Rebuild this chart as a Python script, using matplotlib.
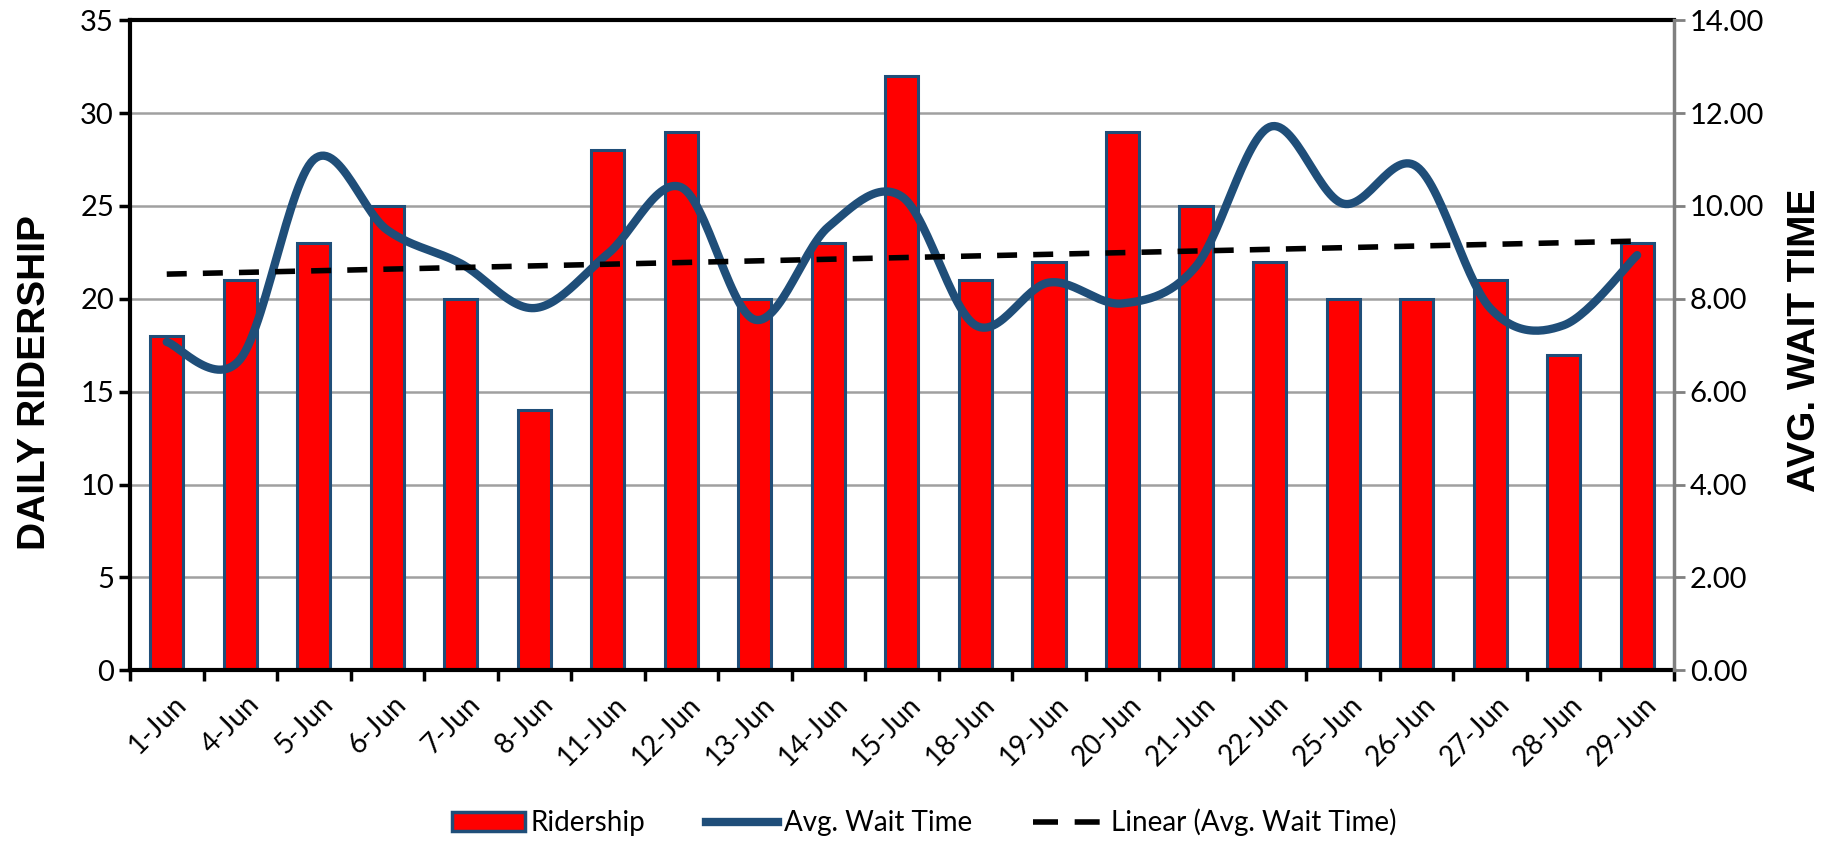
import numpy as np
import matplotlib
matplotlib.use('Agg')
import matplotlib.pyplot as plt
import matplotlib.transforms as mtransforms
from matplotlib.lines import Line2D
from matplotlib.patches import Patch
from matplotlib.ticker import FormatStrFormatter

# data
days = ['1-Jun', '4-Jun', '5-Jun', '6-Jun', '7-Jun', '8-Jun', '11-Jun', '12-Jun',
        '13-Jun', '14-Jun', '15-Jun', '18-Jun', '19-Jun', '20-Jun', '21-Jun',
        '22-Jun', '25-Jun', '26-Jun', '27-Jun', '28-Jun', '29-Jun']
ridership = [18, 21, 23, 25, 20, 14, 28, 29, 20, 23, 32, 21, 22, 29, 25, 22, 20, 20, 21, 17, 23]
wait_time = [7.07, 6.7, 11.0, 9.48, 8.76, 7.8, 8.97, 10.4, 7.55, 9.55, 10.2, 7.43,
             8.35, 7.9, 8.7, 11.7, 10.05, 10.85, 7.8, 7.43, 8.94]

plt.rcParams['font.family'] = ['Lato', 'DejaVu Sans']

red = '#FF0000'
navy = '#1F4E79'

def smooth(xs, ys, n=30):
    # excel-style smoothed line (catmull-rom bezier)
    xs = np.asarray(xs, float)
    ys = np.asarray(ys, float)
    px = np.concatenate([[xs[0]], xs, [xs[-1]]])
    py = np.concatenate([[ys[0]], ys, [ys[-1]]])
    outx, outy = [], []
    t = np.linspace(0, 1, n)
    for i in range(1, len(px) - 2):
        p0 = np.array([px[i], py[i]])
        p3 = np.array([px[i + 1], py[i + 1]])
        c1 = p0 + (np.array([px[i + 1], py[i + 1]]) - np.array([px[i - 1], py[i - 1]])) / 6
        c2 = p3 - (np.array([px[i + 2], py[i + 2]]) - np.array([px[i], py[i]])) / 6
        b = ((1 - t) ** 3)[:, None] * p0 + (3 * (1 - t) ** 2 * t)[:, None] * c1 \
            + (3 * (1 - t) * t ** 2)[:, None] * c2 + (t ** 3)[:, None] * p3
        outx.extend(b[:, 0])
        outy.extend(b[:, 1])
    return np.array(outx), np.array(outy)

fig = plt.figure(figsize=(18.49, 8.41), dpi=100)
ax = fig.add_axes([0.0703, 0.203, 0.835, 0.773])
ax2 = ax.twinx()

x = np.arange(len(days))
ax.bar(x, ridership, width=0.45, color=red, edgecolor=navy, linewidth=2.2, zorder=2)
ax.set_ylim(0, 35)
ax.set_xlim(-0.5, len(days) - 0.5)
ax.set_yticks(range(0, 36, 5))
ax.yaxis.grid(True, color='#A0A0A0', linewidth=1.8, zorder=0)
ax.set_axisbelow(True)

# ticks on the category boundaries
ax.set_xticks(np.arange(len(days) + 1) - 0.5)
ax.set_xticklabels([])
ax.set_xticks(x, minor=True)
ax.set_xticklabels(days, minor=True, rotation=45, ha='right', rotation_mode='anchor', fontsize=20)
ax.tick_params(axis='x', which='minor', length=0, pad=15)
ax.tick_params(axis='x', which='major', length=8, width=2.5, direction='out')
ax.tick_params(axis='y', length=8, width=2.5, labelsize=21)
shift = mtransforms.ScaledTranslation(0.06, 0, fig.dpi_scale_trans)
for lab in ax.get_xticklabels(minor=True):
    lab.set_transform(lab.get_transform() + shift)

for s in ['left', 'bottom', 'top']:
    ax.spines[s].set_linewidth(3)
    ax.spines[s].set_color('black')
ax.spines['right'].set_visible(False)

sx, sy = smooth(x, wait_time)
ax2.plot(sx, sy, color=navy, linewidth=6, solid_capstyle='round', zorder=3)
k, b = np.polyfit(x, wait_time, 1)
ax2.plot(x, k * x + b, color='black', linewidth=4, dashes=(3.6, 2.9), zorder=4)
ax2.set_ylim(0, 14)
ax2.set_yticks(np.arange(0, 14.1, 2))
ax2.yaxis.set_major_formatter(FormatStrFormatter('%.2f'))
ax2.tick_params(axis='y', length=8, width=2, color='#808080', labelsize=21)
for s in ['left', 'bottom', 'top']:
    ax2.spines[s].set_visible(False)
ax2.spines['right'].set_color('#808080')
ax2.spines['right'].set_linewidth(2.5)

fig.text(0.019, 0.545, 'DAILY RIDERSHIP', rotation=90, va='center', ha='center',
         fontsize=28, fontweight='bold', family=['Liberation Sans', 'DejaVu Sans'])
fig.text(0.976, 0.595, 'AVG. WAIT TIME', rotation=90, va='center', ha='center',
         fontsize=28, fontweight='bold', family=['Liberation Sans', 'DejaVu Sans'])

handles = [Patch(facecolor=red, edgecolor=navy, linewidth=2.5),
           Line2D([], [], color=navy, linewidth=6),
           Line2D([], [], color='black', linewidth=4, dashes=(4.5, 3))]
fig.legend(handles, ['Ridership', 'Avg. Wait Time', 'Linear (Avg. Wait Time)'],
           loc='center', bbox_to_anchor=(0.5, 0.022), ncol=3, frameon=False,
           fontsize=20, handlelength=2.6, handletextpad=0.2, columnspacing=2.2)

fig.savefig('out.png', dpi=100)
